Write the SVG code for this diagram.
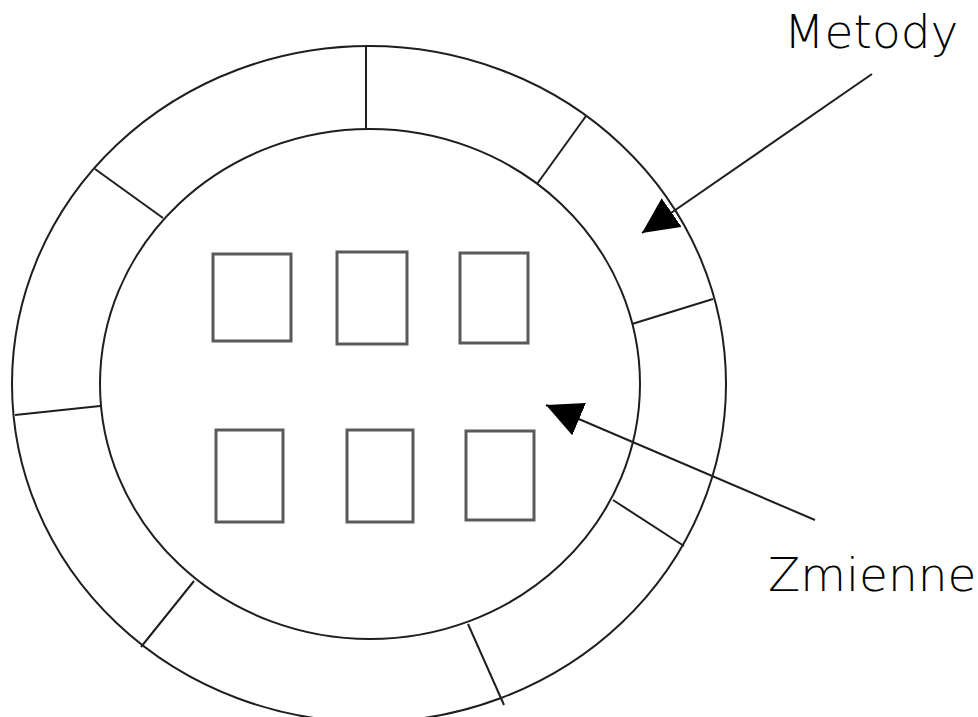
<svg xmlns="http://www.w3.org/2000/svg" width="978" height="717" viewBox="0 0 978 717">
  <style>
    .ring { fill: none; stroke: #1e1e1e; stroke-width: 2; }
    .divider { stroke: #1e1e1e; stroke-width: 2; }
    .box { fill: none; stroke: #5a5a5a; stroke-width: 3; }
    .pointer { stroke: #1e1e1e; stroke-width: 2; fill: none; }
    .label { font-family: "DejaVu Sans", "Liberation Sans", sans-serif; font-weight: 200; font-size: 47px; fill: #000; }
  </style>
  <defs>
    <marker id="head" viewBox="0 0 36 35" refX="36" refY="17.5" markerWidth="36" markerHeight="35" markerUnits="userSpaceOnUse" orient="auto">
      <path d="M0,0 L36,17.5 L0,35 z" fill="#000"/>
    </marker>
  </defs>

  <rect width="978" height="717" fill="#fff"/>

  <!-- object shell: methods ring around the variables core -->
  <g id="object">
    <ellipse class="ring" cx="369" cy="384" rx="357" ry="338"/>
    <ellipse class="ring" cx="370" cy="384" rx="270" ry="255"/>
  </g>

  <!-- method segments of the outer ring -->
  <g id="methods">
    <line class="divider" x1="366" y1="46" x2="366" y2="129"/>
    <line class="divider" x1="586" y1="116" x2="537" y2="184"/>
    <line class="divider" x1="95" y1="169" x2="163" y2="218"/>
    <line class="divider" x1="713" y1="299" x2="632" y2="324"/>
    <line class="divider" x1="15" y1="415" x2="100" y2="406"/>
    <line class="divider" x1="684" y1="546" x2="613" y2="500"/>
    <line class="divider" x1="141" y1="647" x2="194" y2="581"/>
    <line class="divider" x1="504" y1="705" x2="468" y2="624"/>
  </g>

  <!-- variables inside the core -->
  <g id="variables">
    <rect class="box" x="213" y="254" width="78" height="87"/>
    <rect class="box" x="337" y="252" width="70" height="92"/>
    <rect class="box" x="460" y="253" width="68" height="90"/>
    <rect class="box" x="216" y="430" width="67" height="92"/>
    <rect class="box" x="347" y="430" width="66" height="92"/>
    <rect class="box" x="466" y="431" width="68" height="89"/>
  </g>

  <g id="connectors">
    <line class="pointer" x1="872" y1="74" x2="642" y2="233" marker-end="url(#head)"/>
    <line class="pointer" x1="815" y1="520" x2="546" y2="405" marker-end="url(#head)"/>
  </g>

  <g id="label-metody">
    <text class="label" x="784" y="48">Metody</text>
  </g>
  <g id="label-zmienne">
    <text class="label" x="768" y="591">Zmienne</text>
  </g>
</svg>
